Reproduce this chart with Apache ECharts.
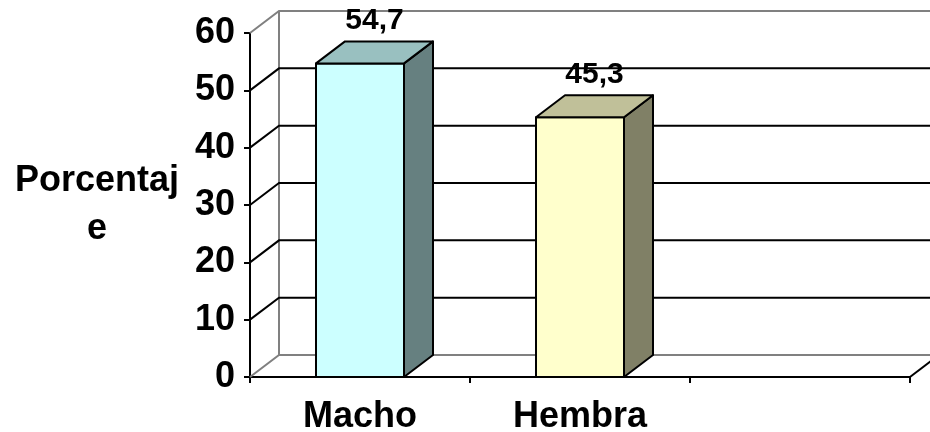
<!DOCTYPE html>
<html>
<head>
<meta charset="utf-8">
<script src="https://cdn.jsdelivr.net/npm/echarts@6/dist/echarts.min.js"></script>
<style>
  html, body { margin: 0; padding: 0; background: #ffffff; }
  #chart { width: 930px; height: 432px; }
</style>
</head>
<body>
<div id="chart"></div>
<script>
// Categories (the third slot is left empty on purpose)
const categories = ['Macho', 'Hembra', ''];
// Percentage per category
const percentages = [54.7, 45.3];
// Value axis ticks
const yTicks = [0, 10, 20, 30, 40, 50, 60];

// Face colours for each bar: front, top, side
const frontColors = ['#CCFFFF', '#FFFFCC'];
const topColors = ['#99C0C0', '#C0C099'];
const sideColors = ['#668080', '#808066'];

// Pseudo-3D depth offset in pixels
const DX = 29;
const DY = -22;
const BAR_RATIO = 0.4;
const FONT = '"Liberation Sans", Arial, sans-serif';

const yMin = yTicks[0];
const yMax = yTicks[yTicks.length - 1];

function formatValue(v) {
  return v.toFixed(1).replace('.', ',');
}

// Side wall, back wall and floor edges for each tick level
function renderWall(params, api) {
  const cs = params.coordSys;
  const v = api.value(0);
  const y = api.coord([0, v])[1];
  const x0 = cs.x;
  const x1 = cs.x + cs.width;
  const isEdge = (v === yMin || v === yMax);
  const stroke = isEdge ? '#808080' : '#000000';
  const children = [{
    type: 'polyline',
    shape: { points: [[x0, y], [x0 + DX, y + DY], [x1 + DX + 10, y + DY]] },
    style: { stroke: stroke, lineWidth: 2, fill: null }
  }];
  if (v === yMin) {
    const yTop = api.coord([0, yMax])[1];
    children.push({
      type: 'line',
      shape: { x1: x0 + DX, y1: y + DY, x2: x0 + DX, y2: yTop + DY },
      style: { stroke: '#808080', lineWidth: 2 }
    });
    children.push({
      type: 'line',
      shape: { x1: x1, y1: y, x2: x1 + DX, y2: y + DY },
      style: { stroke: '#000000', lineWidth: 2 }
    });
  }
  return { type: 'group', children: children };
}

// Box-shaped bar: front face, right side, top, plus value label
function renderBar(params, api) {
  const i = api.value(0);
  const v = api.value(1);
  const base = api.coord([i, 0]);
  const top = api.coord([i, v]);
  const w = api.size([1, 0])[0] * BAR_RATIO;
  const xl = base[0] - w / 2;
  const xr = base[0] + w / 2;
  const yb = base[1];
  const yt = top[1];
  const outline = { stroke: '#000000', lineWidth: 2, lineJoin: 'round' };
  return {
    type: 'group',
    children: [
      {
        type: 'polygon',
        shape: { points: [[xl, yb], [xr, yb], [xr, yt], [xl, yt]] },
        style: Object.assign({ fill: frontColors[i] }, outline)
      },
      {
        type: 'polygon',
        shape: { points: [[xr, yb], [xr + DX, yb + DY], [xr + DX, yt + DY], [xr, yt]] },
        style: Object.assign({ fill: sideColors[i] }, outline)
      },
      {
        type: 'polygon',
        shape: { points: [[xl, yt], [xr, yt], [xr + DX, yt + DY], [xl + DX, yt + DY]] },
        style: Object.assign({ fill: topColors[i] }, outline)
      },
      {
        type: 'text',
        style: {
          text: formatValue(v),
          x: (xl + xr) / 2 + DX / 2,
          y: yt + DY - 21,
          align: 'center',
          verticalAlign: 'middle',
          font: 'bold 30px ' + FONT,
          fill: '#000000'
        }
      }
    ]
  };
}

const chart = echarts.init(document.getElementById('chart'), null, { renderer: 'canvas' });

const axisTextStyle = {
  color: '#000000',
  fontSize: 36,
  fontWeight: 'bold',
  fontFamily: FONT
};

chart.setOption({
  backgroundColor: '#ffffff',
  animation: false,
  grid: { left: 250, right: 20, top: 33, bottom: 55, outerBoundsMode: 'none', containLabel: false },
  xAxis: {
    type: 'category',
    data: categories,
    boundaryGap: true,
    axisLine: { show: true, lineStyle: { color: '#000000', width: 2 } },
    axisTick: { show: true, length: 6, lineStyle: { color: '#000000', width: 2 } },
    axisLabel: Object.assign({ margin: 22, interval: 0 }, axisTextStyle),
    splitLine: { show: false }
  },
  yAxis: {
    type: 'value',
    min: yMin,
    max: yMax,
    interval: 10,
    name: 'Porcentaj\ne',
    nameLocation: 'middle',
    nameRotate: 0,
    nameGap: 153,
    nameTextStyle: Object.assign({
      align: 'center',
      verticalAlign: 'middle',
      lineHeight: 48,
      padding: [10, 0, 0, 0]
    }, axisTextStyle),
    axisLine: { show: true, lineStyle: { color: '#000000', width: 2 } },
    axisTick: { show: true, length: 6, lineStyle: { color: '#000000', width: 2 } },
    axisLabel: Object.assign({ margin: 15 }, axisTextStyle),
    splitLine: { show: false }
  },
  series: [
    {
      type: 'custom',
      name: 'walls',
      renderItem: renderWall,
      data: yTicks.map(function (t) { return [t]; }),
      encode: { y: 0 },
      clip: false,
      silent: true,
      z: 1
    },
    {
      type: 'custom',
      name: 'Porcentaje',
      renderItem: renderBar,
      data: percentages.map(function (v, i) { return [i, v]; }),
      encode: { x: 0, y: 1 },
      clip: false,
      z: 3
    }
  ]
});
</script>
</body>
</html>
